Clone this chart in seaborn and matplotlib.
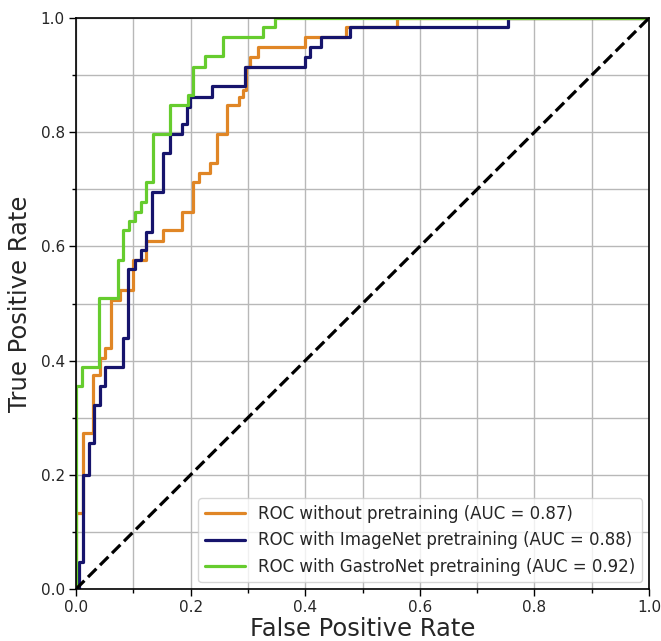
import numpy as np
import pandas as pd
import matplotlib
matplotlib.use("Agg")
import matplotlib.pyplot as plt
from matplotlib.ticker import MultipleLocator
import seaborn as sns

# ROC corner points (steps drawn vertical-then-horizontal)
fpr_none = [0.0, 0.013, 0.030, 0.042, 0.051, 0.061, 0.076, 0.100, 0.123, 0.152, 0.185, 0.204, 0.214,
            0.233, 0.246, 0.264, 0.285, 0.292, 0.296, 0.304, 0.318, 0.400, 0.472, 0.560, 1.0]
tpr_none = [0.0, 0.134, 0.273, 0.375, 0.404, 0.422, 0.506, 0.524, 0.576, 0.610, 0.629, 0.661, 0.712,
            0.728, 0.746, 0.797, 0.847, 0.862, 0.874, 0.915, 0.932, 0.949, 0.966, 0.984, 1.0]

fpr_imagenet = [0.0, 0.005, 0.013, 0.022, 0.032, 0.042, 0.051, 0.0815, 0.0914, 0.103, 0.113, 0.123, 0.132,
                0.152, 0.164, 0.1845, 0.194, 0.199, 0.237, 0.295, 0.400, 0.408, 0.427, 0.478, 0.7545, 1.0]
tpr_imagenet = [0.0, 0.0, 0.048, 0.200, 0.255, 0.322, 0.355, 0.388, 0.439, 0.560, 0.576, 0.594, 0.626,
                0.695, 0.763, 0.797, 0.814, 0.845, 0.861, 0.881, 0.915, 0.932, 0.949, 0.966, 0.984, 1.0]

fpr_gastro = [0.0, 0.0105, 0.0407, 0.0727, 0.0815, 0.092, 0.1024, 0.113, 0.123, 0.134, 0.164, 0.196,
              0.205, 0.225, 0.257, 0.327, 0.347, 1.0]
tpr_gastro = [0.0, 0.355, 0.388, 0.509, 0.576, 0.628, 0.645, 0.661, 0.678, 0.712, 0.797, 0.847,
              0.865, 0.915, 0.933, 0.967, 0.984, 1.0]

labels = ["ROC without pretraining (AUC = 0.87)",
          "ROC with ImageNet pretraining (AUC = 0.88)",
          "ROC with GastroNet pretraining (AUC = 0.92)"]
colors = ["#e08626", "#16146c", "#66cc2e"]

sns.set_theme(style="whitegrid")
plt.rcParams["font.family"] = ["DejaVu Sans"]

fig = plt.figure(figsize=(6.61, 6.41), dpi=100)
ax = fig.add_axes([0.115, 0.0811, 0.8669, 0.8908])

curves = [(fpr_none, tpr_none), (fpr_imagenet, tpr_imagenet), (fpr_gastro, tpr_gastro)]
for (fpr, tpr), lab, col in zip(curves, labels, colors):
    df = pd.DataFrame({"fpr": fpr, "tpr": tpr})
    sns.lineplot(data=df, x="fpr", y="tpr", ax=ax, color=col, lw=2.3, label=lab,
                 estimator=None, sort=False, drawstyle="steps-pre")

sns.lineplot(x=[0, 1], y=[0, 1], ax=ax, color="black", lw=2.3, linestyle="--",
             estimator=None, sort=False)

ax.set_xlim(0, 1)
ax.set_ylim(0, 1)
ax.xaxis.set_major_locator(MultipleLocator(0.2))
ax.yaxis.set_major_locator(MultipleLocator(0.2))
ax.xaxis.set_minor_locator(MultipleLocator(0.1))
ax.yaxis.set_minor_locator(MultipleLocator(0.1))
ax.grid(True, which="both", color="#b8b8b8", lw=1.0)
ax.tick_params(which="major", direction="out", length=5, width=1, color="black",
               labelsize=11, pad=3, bottom=True, left=True)
ax.tick_params(which="minor", direction="out", length=3, width=1, color="black",
               bottom=True, left=True)
for sp in ax.spines.values():
    sp.set_color("black")
    sp.set_linewidth(1.2)

ax.set_xlabel("False Positive Rate", fontsize=17.5, labelpad=1)
ax.set_ylabel("True Positive Rate", fontsize=17.5, labelpad=6)

leg = ax.legend(loc="lower right", fontsize=12, handlelength=2.4, frameon=True,
                framealpha=0.8, borderaxespad=0.4)
leg.get_frame().set_edgecolor("#cccccc")

fig.savefig("out.png", dpi=100)
